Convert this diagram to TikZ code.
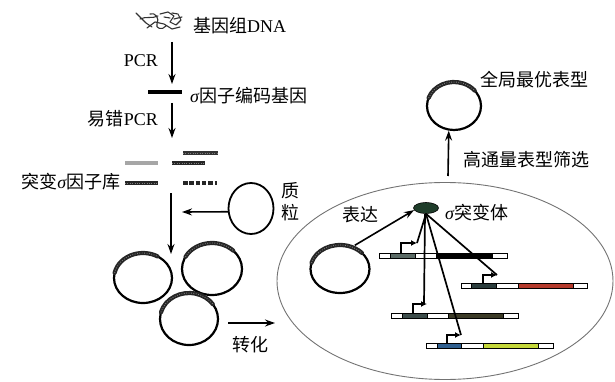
\documentclass[tikz,border=0pt]{standalone}
\usepackage{fontspec}
\setmainfont{Liberation Serif}
\newfontfamily\cjk{Noto Sans CJK SC}
\usetikzlibrary{arrows.meta,shapes.geometric,calc}

\definecolor{sigfill}{HTML}{1F3D2A}
\definecolor{promA}{HTML}{5B6B66}
\definecolor{promB}{HTML}{2B3D3D}
\definecolor{promC}{HTML}{3D4D4B}
\definecolor{promD}{HTML}{2F5F8F}
\definecolor{geneB}{HTML}{B53A2C}
\definecolor{geneC}{HTML}{3B3A26}
\definecolor{geneD}{HTML}{C5D83A}

% thick grainy band on the insert of a plasmid: node, rx, ry, start, end
\newcommand\bandarc[5]{%
  \draw[band] ($(#1.center)+(#4:#2 and #3)$) arc[start angle=#4,end angle=#5,x radius=#2,y radius=#3];
  \draw[grain] ($(#1.center)+(#4:#2 and #3)$) arc[start angle=#4,end angle=#5,x radius=#2,y radius=#3];
}
% reporter construct: y, x0..x5, promoter colour, gene colour
\newcommand\genebar[9]{%
  \fill[white] (#2,#1-2.5) rectangle (#7,#1+2.5);
  \filldraw[fill=#8,line width=0.4pt] (#3,#1-2.5) rectangle (#4,#1+2.5);
  \filldraw[fill=#9,line width=0.4pt] (#5,#1-2.5) rectangle (#6,#1+2.5);
  \draw[line width=0.7pt] (#2,#1-2.5) rectangle (#7,#1+2.5);
}

\begin{document}
\begin{tikzpicture}[x=1pt,y=-1pt,
  txt/.style={font=\fontsize{18}{20}\selectfont, inner sep=0pt},
  flow/.style={line width=1.6pt,-{Stealth[length=10pt,width=7pt]}},
  ring/.style={draw, ellipse, line width=2.2pt, inner sep=0pt},
  band/.style={line width=4.2pt, black!85, line cap=round},
  grain/.style={line width=0.9pt, black!50, dash pattern=on 0.8pt off 1.6pt},
  prom/.style={line width=1.5pt,-{Latex[length=6pt,width=6pt]}},
  bind/.style={line width=1.7pt},
  libbar/.style={line width=3.4pt},
]
\useasboundingbox (0,0) rectangle (615,382);

% genomic DNA tangle
\draw[line width=1.1pt, black!80, line cap=round, line join=round]
  (136,13) -- (146,23) -- (152,27)
  (140,19) .. controls (146,16) and (152,19) .. (158,16)
  (150,14) .. controls (155,12) and (160,18) .. (157,24) .. controls (155,28) and (162,31) .. (166,26)
  (160,14) -- (168,12) -- (174,16) -- (170,22) -- (176,25) -- (181,20) -- (178,14) -- (172,13)
  (147,28) -- (155,22) -- (164,24) -- (172,29) -- (180,27)
  (164,17) -- (170,18) (174,19) -- (182,17);
\node[txt, anchor=west] (dna) at (193,26) {{\cjk 基因组}DNA};

% PCR of the sigma factor gene
\coordinate (a1s) at (172,42);
\coordinate (a1e) at (172,84);
\draw[flow] (a1s) -- (a1e);
\node[txt, anchor=east] (pcr) at (158,61) {PCR};
\coordinate (gl) at (148,92);
\coordinate (gr) at (182,92);
\draw[line width=4.5pt] (gl) -- (gr);
\node[txt, anchor=west] (gene) at (190,96) {\textit{σ}{\cjk 因子编码基因}};

% error-prone PCR
\coordinate (a2s) at (172,103);
\coordinate (a2e) at (172,138);
\draw[flow] (a2s) -- (a2e);
\node[txt, anchor=east] (eppcr) at (158,119) {{\cjk 易错}PCR};

% mutant library
\draw[libbar, black!35] (125,163) -- (158,163);
\draw[libbar, black!85] (172,163) -- (205,163);
\draw[grain] (172,163) -- (205,163);
\draw[libbar, black!80] (183,153) -- (218,153);
\draw[grain] (183,153) -- (218,153);
\draw[libbar, black!85] (125,183) -- (158,183);
\draw[grain] (125,183) -- (158,183);
\draw[libbar, black!85, dash pattern=on 4.5pt off 1.8pt] (183,183) -- (217,183);
\node[txt, anchor=east] (lib) at (121,182) {{\cjk 突变}\textit{σ}{\cjk 因子库}};

% plasmid backbone
\node[ring, line width=1.8pt, minimum width=45, minimum height=51] (plasmid) at (251,208.5) {};
\node[txt] (zhi) at (290,191) {\cjk 质};
\node[txt] (li) at (290,213) {\cjk 粒};
\coordinate (ins) at (182,212);
\draw[flow] (plasmid.188) -- (ins);

% cloning into plasmids
\coordinate (a3s) at (171,193);
\coordinate (a3e) at (171,254);
\draw[flow] (a3s) -- (a3e);
\node[ring, minimum width=58, minimum height=50] (cA) at (143,278) {};
\node[ring, minimum width=60, minimum height=52] (cB) at (212,269) {};
\node[ring, minimum width=58, minimum height=52] (cC) at (189,319) {};
\bandarc{cA}{29}{25}{192}{300}
\bandarc{cB}{30}{26}{208}{315}
\bandarc{cC}{29}{26}{195}{325}

% transformation
\coordinate (a4s) at (228,323);
\coordinate (a4e) at (275,323);
\draw[flow] (a4s) -- (a4e);
\node[txt] (trans) at (250,345) {\cjk 转化};

% host cell
\node[draw=black!55, line width=0.9pt, ellipse, minimum width=336, minimum height=197, inner sep=0pt] (cell) at (445,281) {};
\node[ring, minimum width=59, minimum height=48] (pl2) at (340,269) {};
\bandarc{pl2}{29.5}{24}{195}{318}
\node[draw=black, fill=sigfill, ellipse, line width=0.6pt, minimum width=25, minimum height=11, inner sep=0pt] (sig) at (426,208) {};
\draw[flow, shorten <=2pt] (pl2.60) -- (sig.190);
\node[txt] (expr) at (360,215) {\cjk 表达};
\node[txt, anchor=west] (sigmut) at (445,213) {\textit{σ}{\cjk 突变体}};

% reporter constructs
\genebar{256}{379}{390}{415}{436}{492}{507}{promA}{black}
\genebar{286}{461}{471}{496}{518}{573}{587}{promB}{geneB}
\genebar{316}{391}{402}{427}{448}{503}{518}{promC}{geneC}
\genebar{346}{426}{437}{461}{483}{538}{553}{promD}{geneD}

% promoters
\coordinate (p1) at (417,243);
\coordinate (p2) at (497,275);
\coordinate (p3) at (427,304);
\coordinate (p4) at (461,335);
\draw[prom] (401,253.5) |- (p1);
\draw[prom] (483,283.5) |- (p2);
\draw[prom] (413,313.5) |- (p3);
\draw[prom] (447,343.5) |- (p4);

% sigma mutant binding its promoters
\draw[bind] (sig.south) -- (p1);
\draw[bind] (sig.south) -- (p2);
\draw[bind] ([xshift=-1pt]sig.south) -- ([xshift=-3pt]p3);
\draw[bind] (sig.south) -- (p4);

% screening
\coordinate (scr) at (448,176);
\node[ring, minimum width=54, minimum height=48] (best) at (454,106) {};
\bandarc{best}{27}{24}{200}{320}
\draw[flow] (scr) -- (best.258);
\node[txt, anchor=west] (bestlbl) at (480,80) {\cjk 全局最优表型};
\node[txt, anchor=west] (scrlbl) at (463,160) {\cjk 高通量表型筛选};
\end{tikzpicture}
\end{document}
